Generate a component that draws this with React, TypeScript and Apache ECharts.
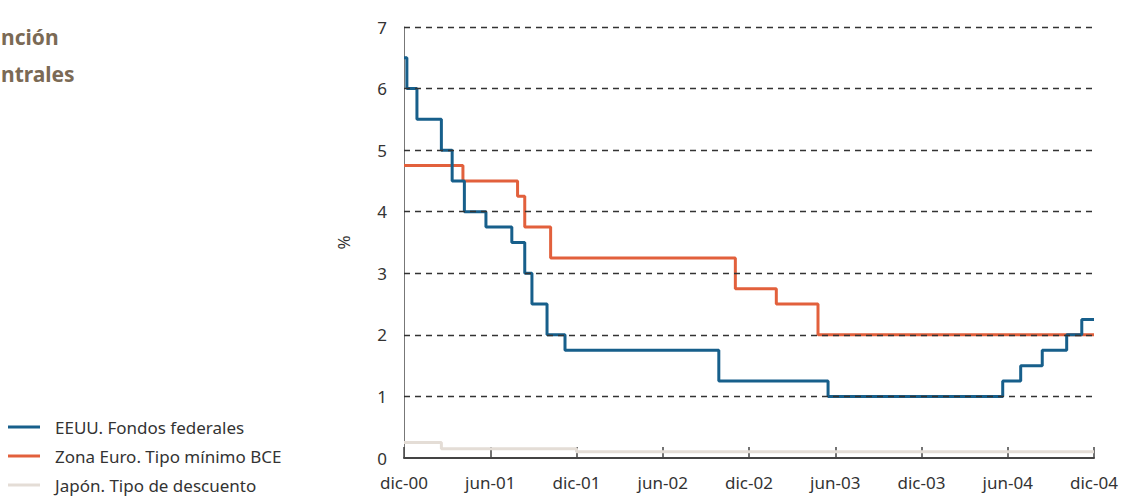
import React, { useEffect, useRef } from "react";
import * as echarts from "echarts";

const xTickLabels = ["dic-00", "jun-01", "dic-01", "jun-02", "dic-02", "jun-03", "dic-03", "jun-04", "dic-04"];

// month offsets from dic-00 where each new rate starts
const usMonths = [0, 0.2, 0.9, 2.6, 3.35, 4.2, 5.7, 7.5, 8.4, 8.9, 9.95, 11.2, 21.9, 29.5, 41.65, 42.9, 44.4, 46.1, 47.15, 48];
const usRates = [6.5, 6.0, 5.5, 5.0, 4.5, 4.0, 3.75, 3.5, 3.0, 2.5, 2.0, 1.75, 1.25, 1.0, 1.25, 1.5, 1.75, 2.0, 2.25, 2.25];

const euMonths = [0, 4.1, 7.9, 8.4, 10.2, 23.05, 25.9, 28.8, 48];
const euRates = [4.75, 4.5, 4.25, 3.75, 3.25, 2.75, 2.5, 2.0, 2.0];

const jpMonths = [0, 2.6, 12.0, 48];
const jpRates = [0.25, 0.15, 0.1, 0.1];

const gridLevels = [1, 2, 3, 4, 5, 6, 7];

const seriesNames = ["EEUU. Fondos federales", "Zona Euro. Tipo mínimo BCE", "Japón. Tipo de descuento"];
const titleFragments = ["nción", "ntrales"];
const colors = ["#175f8b", "#e2603c", "#e4ddd6"];

const FONT = "Noto Sans";

function zip(xs: number[], ys: number[]) {
  return xs.map((x, i) => [x, ys[i]]);
}

export default function App() {
  const ref = useRef<HTMLDivElement>(null);
  useEffect(() => {
    const chart = echarts.init(ref.current!, null, { renderer: "svg" });
    const legendTops = [412, 441, 470];
    chart.setOption({
      animation: false,
      grid: { left: 404, right: 27, top: 27, bottom: 38, containLabel: false },
      legend: seriesNames.map((n, i) => ({
        orient: "vertical",
        left: 3,
        top: legendTops[i],
        icon: "rect",
        itemWidth: 32,
        itemHeight: 3,
        data: [n],
        textStyle: { fontFamily: FONT, fontSize: 17, color: "#333", lineHeight: 20, padding: [0, 0, 0, 10] },
      })),
      graphic: [
        {
          type: "text",
          x: 1,
          y: 37,
          style: {
            text: titleFragments[0],
            fill: "#7b6a55",
            font: `bold 21px "${FONT}"`,
            textAlign: "left",
            textVerticalAlign: "middle",
          },
        },
        {
          type: "text",
          x: 1,
          y: 74,
          style: {
            text: titleFragments[1],
            fill: "#7b6a55",
            font: `bold 21px "${FONT}"`,
            textAlign: "left",
            textVerticalAlign: "middle",
          },
        },
      ],
      xAxis: {
        type: "value",
        min: 0,
        max: 48,
        interval: 6,
        axisLine: { lineStyle: { color: "#444", width: 2 } },
        axisTick: { show: true, inside: true, length: 11, lineStyle: { color: "#444", width: 1.5 } },
        splitLine: { show: false },
        axisLabel: {
          fontFamily: FONT,
          fontSize: 17,
          color: "#333",
          margin: 16,
          formatter: (v: number) => xTickLabels[Math.round(v / 6)] ?? "",
        },
      },
      yAxis: {
        type: "value",
        min: 0,
        max: 7,
        interval: 1,
        name: "%",
        nameLocation: "middle",
        nameGap: 52,
        nameRotate: 90,
        nameTextStyle: { fontFamily: FONT, fontSize: 17, color: "#333" },
        axisLine: { show: true, lineStyle: { color: "#777", width: 1 } },
        axisTick: { show: false },
        splitLine: { show: false },
        axisLabel: { fontFamily: FONT, fontSize: 17, color: "#333", margin: 17 },
      },
      series: [
        {
          name: seriesNames[2],
          type: "line",
          step: "end",
          data: zip(jpMonths, jpRates),
          symbol: "none",
          z: 1,
          lineStyle: { color: colors[2], width: 3 },
          itemStyle: { color: colors[2] },
        },
        {
          name: seriesNames[1],
          type: "line",
          step: "end",
          data: zip(euMonths, euRates),
          symbol: "none",
          z: 2,
          lineStyle: { color: colors[1], width: 3 },
          itemStyle: { color: colors[1] },
        },
        {
          name: "grid",
          type: "line",
          data: [[0, 0]],
          symbol: "none",
          z: 3,
          lineStyle: { opacity: 0 },
          silent: true,
          markLine: {
            silent: true,
            symbol: "none",
            label: { show: false },
            lineStyle: { color: "#333", width: 1.3, type: [6, 5] },
            data: gridLevels.map((v) => ({ yAxis: v })),
          },
        },
        {
          name: seriesNames[0],
          type: "line",
          step: "end",
          data: zip(usMonths, usRates),
          symbol: "none",
          z: 4,
          lineStyle: { color: colors[0], width: 3 },
          itemStyle: { color: colors[0] },
        },
      ],
    });
    return () => chart.dispose();
  }, []);
  return <div ref={ref} style={{ width: 1121, height: 496, position: "absolute", left: 0, top: 0 }} />;
}
